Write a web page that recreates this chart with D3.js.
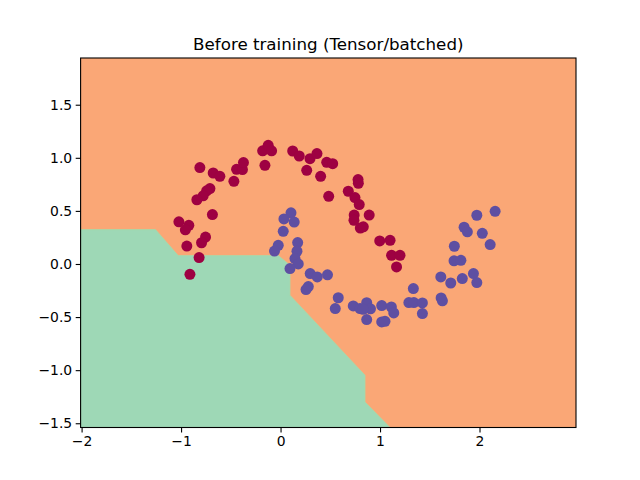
<!DOCTYPE html>
<html>
<head>
<meta charset="utf-8">
<script src="https://cdn.jsdelivr.net/npm/d3@7"></script>
<style>
  body { margin: 0; background: #fff; }
  text { font-family: "DejaVu Sans", sans-serif; }
</style>
</head>
<body>
<div id="main"></div>
<script>
const ctx = {
    w: 640,
    h: 480,
    left: 80.6,
    right: 576,
    top: 58,
    bottom: 427.5,
    ORANGE: "#faa776",
    GREEN: "#9ed8b6",
    RED: "#9e0142",
    PURPLE: "#5e4fa2",
    R: 5.5,
};

const TITLE = "Before training (Tensor/batched)";
const X_DOMAIN = [-2.01, 2.97];
const Y_DOMAIN = [-1.54, 1.94];
const X_TICKS = [-2, -1, 0, 1, 2];
const Y_TICKS = [-1.5, -1.0, -0.5, 0.0, 0.5, 1.0, 1.5];

// decision boundary between the two filled regions (class 0 above/right, class 1 below/left)
const BOUNDARY = [
    [-2.01, 0.324], [-1.257, 0.324], [-1.029, 0.079], [-0.023, 0.079],
    [0.095, -0.012], [0.095, -0.295], [0.849, -1.048], [0.849, -1.30], [1.10, -1.54]
];

// class 0 (upper moon)
const CLASS0 = [
    [-0.811, 0.908], [-0.677, 0.857], [-0.610, 0.826], [-0.469, 0.779], [-0.442, 0.892],
    [-0.383, 0.889], [-0.373, 0.955], [-0.157, 0.929], [-0.180, 1.066], [-0.124, 1.118],
    [-0.090, 1.066], [0.122, 1.064], [0.188, 1.017], [0.296, 0.992], [0.366, 1.040],
    [0.263, 0.882], [0.403, 0.826], [0.464, 0.958], [0.524, 0.945], [0.484, 0.637],
    [-0.710, 0.710], [-0.743, 0.689], [-0.778, 0.642], [-0.841, 0.605], [-0.685, 0.465],
    [-1.022, 0.397], [-0.922, 0.364], [-0.957, 0.322], [-0.754, 0.254], [-0.794, 0.200],
    [-0.942, 0.169], [-0.819, 0.060], [-0.911, -0.097], [0.779, 0.795], [0.782, 0.760],
    [0.681, 0.685], [0.748, 0.625], [0.791, 0.560], [0.740, 0.461], [0.738, 0.411],
    [0.891, 0.461], [0.802, 0.339], [0.832, 0.350], [0.997, 0.217], [1.101, 0.223],
    [1.116, 0.082], [1.201, 0.082], [1.166, -0.028]
];

// class 1 (lower moon)
const CLASS1 = [
    [0.105, 0.482], [0.034, 0.424], [0.137, 0.395], [0.027, 0.308], [-0.023, 0.176],
    [-0.061, 0.122], [0.172, 0.202], [0.165, 0.120], [0.145, 0.051], [0.178, 0.000],
    [0.095, -0.043], [0.298, -0.090], [0.369, -0.122], [0.472, -0.102], [0.279, -0.213],
    [0.256, -0.241], [0.580, -0.318], [0.550, -0.420], [0.731, -0.395], [0.799, -0.420],
    [0.866, -0.365], [0.904, -0.422], [0.866, -0.524], [1.017, -0.392], [1.114, -0.405],
    [1.138, -0.461], [1.017, -0.546], [1.050, -0.540], [1.335, -0.232], [1.290, -0.363],
    [1.340, -0.363], [1.426, -0.367], [1.426, -0.467], [1.611, -0.122], [1.614, -0.320],
    [1.627, -0.347], [1.711, -0.179], [1.827, -0.137], [1.939, -0.090], [1.973, -0.175],
    [1.747, 0.167], [1.744, 0.030], [1.813, 0.035], [1.845, 0.346], [1.878, 0.303],
    [1.973, 0.459], [2.157, 0.496], [2.028, 0.289], [2.107, 0.183], [0.829, -0.427]
];

function minus(s) {
    return s.replace("-", "\u2212");
}

function createViz() {
    let svgEl = d3.select("#main").append("svg")
        .attr("width", ctx.w)
        .attr("height", ctx.h);

    let x = d3.scaleLinear().domain(X_DOMAIN).range([ctx.left, ctx.right]);
    let y = d3.scaleLinear().domain(Y_DOMAIN).range([ctx.bottom, ctx.top]);

    // background region (class 0)
    svgEl.append("rect")
        .attr("x", ctx.left).attr("y", ctx.top)
        .attr("width", ctx.right - ctx.left).attr("height", ctx.bottom - ctx.top)
        .attr("fill", ctx.ORANGE);

    // class 1 region: boundary closed with the lower-left corner
    let poly = BOUNDARY.concat([[X_DOMAIN[0], Y_DOMAIN[0]]]);
    svgEl.append("path")
        .attr("d", d3.line().x((d) => x(d[0])).y((d) => y(d[1]))(poly) + "Z")
        .attr("fill", ctx.GREEN)
        .attr("stroke", "#a8d9a8")
        .attr("stroke-width", 0.8);

    // points
    let dots = svgEl.append("g");
    dots.selectAll("circle.c0")
        .data(CLASS0)
        .enter()
        .append("circle")
        .attr("cx", (d) => x(d[0]))
        .attr("cy", (d) => y(d[1]))
        .attr("r", ctx.R)
        .attr("fill", ctx.RED);
    dots.selectAll("circle.c1")
        .data(CLASS1)
        .enter()
        .append("circle")
        .attr("cx", (d) => x(d[0]))
        .attr("cy", (d) => y(d[1]))
        .attr("r", ctx.R)
        .attr("fill", ctx.PURPLE);

    // axes
    let xAxis = d3.axisBottom(x).tickValues(X_TICKS).tickSize(4.9).tickPadding(3.5)
        .tickFormat((d) => minus(d3.format("d")(d)));
    let yAxis = d3.axisLeft(y).tickValues(Y_TICKS).tickSize(4.9).tickPadding(3.5)
        .tickFormat((d) => minus(d3.format(".1f")(d)));
    let gx = svgEl.append("g")
        .attr("transform", `translate(0,${ctx.bottom})`)
        .call(xAxis);
    let gy = svgEl.append("g")
        .attr("transform", `translate(${ctx.left},0)`)
        .call(yAxis);
    [gx, gy].forEach(function (g) {
        g.select(".domain").remove();
        g.selectAll("line").attr("stroke", "#000").attr("stroke-width", 1.1);
        g.selectAll("text").attr("fill", "#000").style("font-size", "13.9px")
            .style("font-family", "DejaVu Sans, sans-serif");
    });

    // spines
    svgEl.append("rect")
        .attr("x", ctx.left).attr("y", ctx.top)
        .attr("width", ctx.right - ctx.left).attr("height", ctx.bottom - ctx.top)
        .attr("fill", "none")
        .attr("stroke", "#000")
        .attr("stroke-width", 1.1);

    svgEl.append("text")
        .attr("x", (ctx.left + ctx.right) / 2)
        .attr("y", 50)
        .attr("text-anchor", "middle")
        .style("font-size", "16.7px")
        .text(TITLE);
}

createViz();
</script>
</body>
</html>
